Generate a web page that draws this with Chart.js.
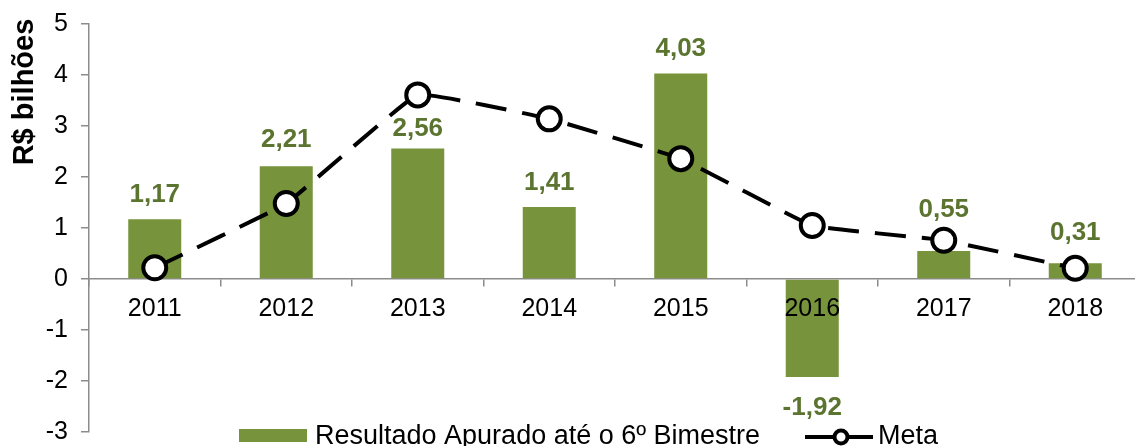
<!DOCTYPE html>
<html>
<head>
<meta charset="utf-8">
<script src="https://cdn.jsdelivr.net/npm/chart.js@4/dist/chart.umd.min.js"></script>
<style>
  html, body { margin: 0; padding: 0; background: #ffffff; overflow: hidden; }
  #wrap { position: relative; width: 1141px; height: 446px; }
  #c { display: block; }
</style>
</head>
<body>
<div id="wrap"><canvas id="c" width="1141" height="446"></canvas></div>
<script>
const categories = ['2011', '2012', '2013', '2014', '2015', '2016', '2017', '2018'];
const resultadoValues = [1.17, 2.21, 2.56, 1.41, 4.03, -1.92, 0.55, 0.31];
const metaValues = [0.22, 1.48, 3.61, 3.14, 2.36, 1.05, 0.76, 0.21];
const yTickValues = [-3, -2, -1, 0, 1, 2, 3, 4, 5];
const seriesNames = ['Resultado Apurado até o 6º Bimestre', 'Meta'];
const axisTitle = 'R$ bilhões';

const FONT = '"Liberation Sans", Arial, Helvetica, sans-serif';
const BAR_COLOR = '#77933C';
const LABEL_COLOR = '#5B7530';
const AXIS_COLOR = '#8C8C8C';

const dataLabelsPlugin = {
  id: 'dataLabels',
  afterDraw(chart, args, opts) {
    const meta = chart.getDatasetMeta(1);
    const ctx = chart.ctx;
    ctx.save();
    ctx.font = 'bold 26px ' + FONT;
    ctx.fillStyle = LABEL_COLOR;
    ctx.textAlign = 'center';
    meta.data.forEach((bar, i) => {
      const v = resultadoValues[i];
      const txt = v.toFixed(2).replace('.', ',');
      const gap = opts.gaps[i];
      if (v >= 0) {
        ctx.textBaseline = 'alphabetic';
        ctx.fillText(txt, bar.x, bar.y - gap);
      } else {
        ctx.textBaseline = 'top';
        ctx.fillText(txt, bar.x, bar.y + gap - 3);
      }
    });
    ctx.restore();
  }
};

const decorPlugin = {
  id: 'decor',
  afterDraw(chart) {
    const ctx = chart.ctx;
    ctx.save();
    ctx.font = 'bold 29px ' + FONT;
    ctx.fillStyle = '#000000';
    ctx.textAlign = 'center';
    ctx.textBaseline = 'alphabetic';
    ctx.translate(33, 92);
    ctx.rotate(-Math.PI / 2);
    ctx.fillText(axisTitle, 0, 0);
    ctx.restore();

    ctx.save();
    ctx.fillStyle = BAR_COLOR;
    ctx.fillRect(239, 429, 68, 13);
    ctx.font = '27px ' + FONT;
    ctx.fillStyle = '#000000';
    ctx.textAlign = 'left';
    ctx.textBaseline = 'alphabetic';
    ctx.fillText(seriesNames[0], 315, 444);
    ctx.strokeStyle = '#000000';
    ctx.lineWidth = 4;
    ctx.beginPath();
    ctx.moveTo(805, 437);
    ctx.lineTo(873, 437);
    ctx.stroke();
    ctx.beginPath();
    ctx.arc(841, 437, 6.5, 0, Math.PI * 2);
    ctx.fillStyle = '#ffffff';
    ctx.fill();
    ctx.stroke();
    ctx.fillStyle = '#000000';
    ctx.fillText(seriesNames[1], 878, 444);
    ctx.restore();
  }
};

new Chart(document.getElementById('c'), {
  data: {
    labels: categories,
    datasets: [
      {
        type: 'line',
        label: seriesNames[1],
        data: metaValues,
        order: 0,
        borderColor: '#000000',
        borderWidth: 4,
        borderDash: [31, 16],
        tension: 0.08,
        fill: false,
        pointRadius: 11.5,
        pointHoverRadius: 11.5,
        pointBackgroundColor: '#ffffff',
        pointBorderColor: '#000000',
        pointBorderWidth: 4
      },
      {
        type: 'bar',
        label: seriesNames[0],
        data: resultadoValues,
        order: 1,
        backgroundColor: BAR_COLOR,
        borderWidth: 0,
        categoryPercentage: 1.0,
        barPercentage: 0.403
      }
    ]
  },
  options: {
    responsive: false,
    maintainAspectRatio: false,
    animation: false,
    devicePixelRatio: 1,
    layout: { autoPadding: false, padding: { left: 0, right: 0, top: 24, bottom: 14 } },
    plugins: {
      legend: { display: false },
      tooltip: { enabled: false },
      dataLabels: { gaps: [17, 19, 12, 17, 17, 21, 34, 23] }
    },
    scales: {
      x: {
        type: 'category',
        position: { y: 0 },
        offset: true,
        grid: {
          offset: true,
          drawOnChartArea: false,
          drawTicks: true,
          tickLength: 7,
          color: AXIS_COLOR,
          lineWidth: 1.5
        },
        border: { display: true, color: AXIS_COLOR, width: 1.5 },
        ticks: {
          z: 1,
          color: '#000000',
          font: { family: FONT, size: 25 },
          padding: 8,
          maxRotation: 0,
          autoSkip: false
        },
        afterFit(scale) {
          scale.paddingLeft = 0; scale.paddingRight = 0;
          scale.paddingTop = 0; scale.paddingBottom = 0;
        }
      },
      y: {
        type: 'linear',
        min: -3,
        max: 5,
        grid: {
          drawOnChartArea: false,
          drawTicks: true,
          tickLength: 8,
          color: AXIS_COLOR,
          lineWidth: 1.5
        },
        border: { display: true, color: AXIS_COLOR, width: 1.5 },
        ticks: {
          color: '#000000',
          font: { family: FONT, size: 25 },
          padding: 13,
          callback: (v) => String(v)
        },
        afterBuildTicks(scale) {
          scale.ticks = yTickValues.map(v => ({ value: v }));
        },
        afterFit(scale) {
          scale.width = 89;
          scale.paddingTop = 0; scale.paddingBottom = 0;
          scale.paddingLeft = 0; scale.paddingRight = 0;
        }
      }
    }
  },
  plugins: [dataLabelsPlugin, decorPlugin]
});
</script>
</body>
</html>
